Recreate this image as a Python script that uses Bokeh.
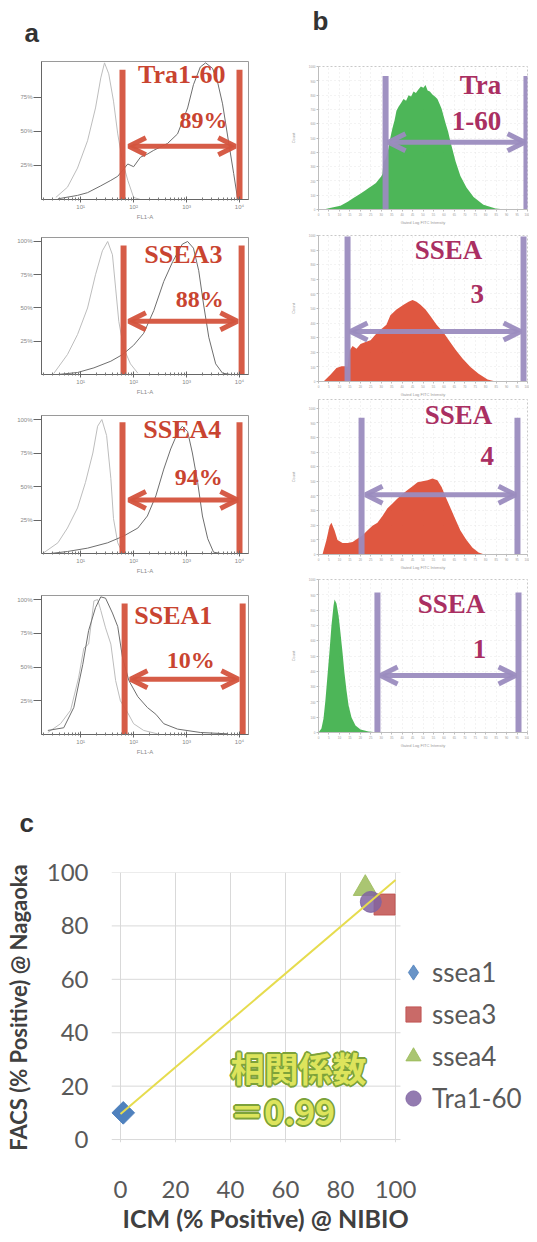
import numpy as np
from bokeh.plotting import figure
from bokeh.layouts import column, row
from bokeh.models import (Range1d, FixedTicker, LabelSet, ColumnDataSource,
                          Arrow, OpenHead, Legend, LegendItem, Title)
from bokeh.core.properties import value
from bokeh.embed import file_html
from bokeh.resources import INLINE

# ---------------- Panel a: FACS histograms (x in log10 decades, y in % of max) ----------------
a_names = ["Tra1-60", "SSEA3", "SSEA4", "SSEA1"]
a_pct = ["89%", "88%", "94%", "10%"]
a_decades = [1, 2, 3, 4]
a_decade_labels = ["10¹", "10²", "10³", "10⁴"]
a_yticks = [[25, 50, 75], [25, 50, 75, 100], [25, 50, 75, 100], [25, 50, 75, 100]]

a_ctrl_d = [
    [0.53, 0.75, 0.94, 1.13, 1.28, 1.38, 1.45, 1.53, 1.62, 1.70, 1.79, 1.89, 2.00, 2.13],
    [0.49, 0.75, 0.94, 1.13, 1.28, 1.41, 1.51, 1.60, 1.66, 1.72, 1.81, 1.94, 2.08],
    [0.30, 0.57, 0.75, 0.94, 1.09, 1.23, 1.32, 1.40, 1.49, 1.57, 1.62, 1.70, 1.79],
    [0.38, 0.62, 0.81, 0.96, 1.06, 1.15, 1.25, 1.32, 1.38, 1.47, 1.57, 1.66, 1.75, 1.89, 2.00, 2.19, 2.45],
]
a_ctrl_y = [
    [1.5, 9, 23, 43, 67, 89, 100, 92, 72, 48, 28, 14, 1.5, 0],
    [0.7, 15, 30, 50, 75, 93, 100, 90, 65, 40, 20, 8, 1],
    [0.5, 8, 19, 34, 53, 75, 95, 100, 88, 56, 26, 8, 0.5],
    [1.5, 8, 18, 42, 64, 67, 99, 100, 92, 79, 67, 40, 25, 16, 8, 3, 0.5],
]
a_samp_d = [
    [0.57, 0.94, 1.13, 1.38, 1.57, 1.70, 1.89, 2.00, 2.13, 2.25, 2.38, 2.64, 2.83, 3.02, 3.13, 3.26,
     3.36, 3.49, 3.58, 3.68, 3.79, 3.89, 3.96, 4.02],
    [0.57, 0.94, 1.25, 1.57, 1.79, 2.00, 2.19, 2.38, 2.57, 2.74, 2.92, 3.02, 3.13, 3.23, 3.32, 3.42,
     3.55, 3.68, 3.83],
    [0.43, 0.75, 1.13, 1.51, 1.81, 2.08, 2.26, 2.42, 2.57, 2.70, 2.83, 2.92, 3.02, 3.11, 3.21, 3.30,
     3.40, 3.51, 3.64],
    [0.38, 0.68, 0.87, 1.04, 1.15, 1.28, 1.38, 1.47, 1.60, 1.70, 1.79, 1.91, 2.08, 2.26, 2.42, 2.57,
     2.83, 3.26, 3.77],
]
a_samp_y = [
    [0.5, 3, 5, 10, 14, 17, 26, 24, 31, 33, 36, 41, 48, 67, 84, 97, 100, 96, 87, 70, 43, 19, 1.5, 0],
    [0, 1.5, 5, 10, 15, 22, 31, 48, 70, 85, 98, 100, 95, 78, 53, 28, 8, 1, 0],
    [0, 1.5, 4, 8, 13, 19, 28, 43, 63, 78, 90, 95, 91, 75, 53, 28, 11, 1, 0],
    [3, 5, 20, 52, 77, 94, 102, 101, 90, 80, 57, 40, 28, 20, 15, 8, 4, 1.5, 0.5],
]
a_gate_lo = [1.79, 1.81, 1.79, 1.83]
a_gate_hi = [4.00, 4.04, 4.00, 4.06]
a_gate_top = [95, 97, 98, 97]
a_arrow_lo = [1.91, 1.91, 1.91, 1.94]
a_arrow_hi = [3.92, 3.96, 3.96, 3.98]
a_arrow_y = [39, 40, 40, 41]
a_name_x = [2.91, 2.94, 2.92, 2.75]
a_name_y = [85, 84, 86, 82]
a_pct_x = [3.32, 3.25, 3.23, 3.08]
a_pct_y = [52, 51, 51, 49]
a_ytop = [101, 103, 103, 103]

# ---------------- Panel b: ICM histograms (x channel units, y counts) ----------------
b_line1 = ["Tra", "SSEA", "SSEA", "SSEA"]
b_line2 = ["1-60", "3", "4", "1"]
b_x = [
    [2.4, 6, 10.5, 14, 16.7, 20, 22.5, 24, 25.8, 27.5, 28.7, 30.0, 30.6, 31.1, 32.0, 32.5, 33.5, 34.4,
     35.4, 36.4, 37.3, 38.3, 39.5, 40.7, 41.9, 43.1, 44.3, 45.5, 46.6, 47.8, 49.0, 50.2, 51.2, 52.2,
     53.3, 54.5, 55.7, 56.9, 57.9, 58.9, 60.8, 62.0, 63.2, 65.6, 67.9, 70.8, 74.2, 78.9, 84.7, 89.5],
    [2.4, 5.7, 8.6, 11.0, 12.9, 13.9, 14.8, 16.3, 18.2, 20.1, 22.5, 24.9, 27.3, 29.7, 32.5, 34.4, 37.3,
     40.7, 43.1, 45.0, 46.9, 48.8, 51.2, 53.6, 56.5, 59.8, 62.7, 65.6, 68.9, 72.7, 76.6, 80.9, 84.7],
    [1.9, 3.8, 5.3, 6.2, 7.7, 9.1, 11.5, 13.9, 16.3, 19.1, 21.1, 23.4, 25.8, 28.2, 30.6, 33.0, 35.4,
     37.8, 40.2, 42.6, 45.0, 47.4, 49.8, 52.2, 54.5, 56.9, 58.9, 60.8, 63.2, 65.6, 67.9, 70.8, 73.7,
     76.6, 79.4],
    [0, 1.4, 2.4, 3.3, 4.3, 5.3, 6.2, 7.2, 7.7, 8.6, 9.6, 10.5, 11.5, 12.4, 13.4, 14.4, 15.8, 17.7,
     20.1, 23.9, 28.7],
]
b_y = [
    [0, 12, 27, 55, 80, 110, 134, 150, 168, 185, 208, 230, 248, 336, 350, 369, 430, 503, 570, 624,
     690, 718, 745, 772, 760, 799, 790, 826, 815, 839, 860, 852, 870, 832, 825, 805, 790, 772, 740,
     705, 604, 545, 470, 336, 235, 154, 87, 34, 7, 0],
    [0, 46, 92, 105, 105, 99, 211, 243, 224, 257, 270, 283, 322, 355, 388, 454, 493, 526, 546, 559,
     546, 526, 493, 447, 388, 336, 276, 217, 158, 99, 53, 13, 0],
    [0, 99, 197, 217, 164, 99, 79, 79, 86, 112, 132, 164, 197, 217, 263, 316, 349, 382, 414, 441,
     467, 493, 500, 507, 520, 507, 461, 395, 316, 237, 164, 99, 46, 13, 0],
    [0, 26, 92, 209, 373, 536, 699, 830, 869, 843, 765, 654, 523, 392, 275, 176, 98, 46, 20, 7, 0],
]
b_gate_lo = [32.1, 13.9, 20.6, 28.2]
b_gate_hi = [99.5, 98.1, 95.2, 95.7]
b_gate_top = [933, 993, 934, 915]
b_gate_bot = [0, 0, -30, 0]
b_arrow_lo = [33.5, 15.3, 22.5, 29.7]
b_arrow_hi = [98.6, 96.7, 94.3, 94.3]
b_arrow_y = [470, 342, 408, 373]
b_l1_x = [77.5, 62.2, 67.0, 63.6]
b_l1_y = [805, 836, 895, 784]
b_l2_x = [75.6, 75.9, 80.7, 77.0]
b_l2_y = [557, 539, 612, 484]
b_xticks = list(range(0, 101, 5))
b_yticks = list(range(0, 1001, 100))

# ---------------- Panel c: scatter ----------------
c_series = ["ssea1", "ssea3", "ssea4", "Tra1-60"]
c_icm = [1, 96, 89, 91]
c_facs = [10, 88, 94, 89]
c_ticks = [0, 20, 40, 60, 80, 100]
c_corr_title = "相関係数"

# ---------------- styles / layout ----------------
RED = "#d4533d"
RED_TXT = "#c94430"
PURPLE = "#9b8cbf"
MAGENTA = "#aa2f62"
b_fill = ["#3fb04b", "#dd4a31", "#dd4a31", "#3fb04b"]
SERIF = "Liberation Serif"
SANS = "Liberation Sans"

a_h = [222, 175, 179, 214]
a_top = [61, 15, 18, 19]
a_bot = [23, 23, 23, 56]
b_h = [227, 172, 173, 218]
b_top = [66, 8, 0, 7]
b_bot = [12, 12, 12, 58]
b_ytop = [1000, 1000, 1059, 1000]


def panel_title(p, text, offset, standoff):
    p.title.text = text
    p.title.text_font = SANS
    p.title.text_font_size = "26px"
    p.title.text_font_style = "bold"
    p.title.text_color = "#333333"
    p.title.align = "left"
    p.title.offset = offset
    p.title.standoff = standoff


def make_a(i):
    kw = {} if i == 0 else {"title_location": None}
    p = figure(width=270, height=a_h[i], x_axis_type="log",
               x_range=Range1d(10 ** 0.26, 10 ** 4.17), y_range=Range1d(0, a_ytop[i]),
               output_backend="svg", toolbar_location=None,
               min_border_left=41, min_border_right=22,
               min_border_top=a_top[i], min_border_bottom=a_bot[i], **kw)
    if i == 0:
        panel_title(p, "a", -17, 28)
    p.background_fill_color = "white"
    p.border_fill_color = "white"
    p.outline_line_color = "#9a9a9a"
    p.grid.visible = False
    p.line(10 ** np.array(a_ctrl_d[i]), a_ctrl_y[i], line_color="#bdbdbd", line_width=1)
    p.line(10 ** np.array(a_samp_d[i]), a_samp_y[i], line_color="#6e6e6e", line_width=1)
    gx = 10 ** np.array([a_gate_lo[i], a_gate_hi[i]])
    p.segment(x0=gx, y0=[0, 0], x1=gx, y1=[a_gate_top[i]] * 2,
              line_color=RED, line_width=6, line_alpha=0.95)
    head = dict(size=17, line_width=5, line_color=RED, line_alpha=0.95)
    p.add_layout(Arrow(start=OpenHead(**head), end=OpenHead(**head),
                       x_start=10 ** a_arrow_lo[i], y_start=a_arrow_y[i],
                       x_end=10 ** a_arrow_hi[i], y_end=a_arrow_y[i],
                       line_color=RED, line_width=5, line_alpha=0.95))
    src = ColumnDataSource(dict(x=10 ** np.array([a_name_x[i], a_pct_x[i]]),
                                y=[a_name_y[i], a_pct_y[i]],
                                t=[a_names[i], a_pct[i]],
                                s=["26px", "24px"]))
    p.add_layout(LabelSet(x="x", y="y", text="t", source=src, text_font=value(SERIF),
                          text_font_style="bold", text_font_size="s", text_color=RED_TXT,
                          text_align="center", text_baseline="alphabetic"))
    p.xaxis.ticker = FixedTicker(ticks=[10 ** k for k in a_decades],
                                 minor_ticks=[m * 10 ** k for k in [0] + a_decades for m in range(2, 10)])
    p.xaxis.major_label_overrides = {10 ** k: lab for k, lab in zip(a_decades, a_decade_labels)}
    p.xaxis.axis_label = "FL1-A"
    p.xaxis.major_tick_in = 3
    p.xaxis.major_tick_out = 3
    p.xaxis.minor_tick_in = 2
    p.xaxis.minor_tick_out = 1
    p.yaxis.ticker = FixedTicker(ticks=a_yticks[i])
    p.yaxis.major_label_overrides = {t: f"{t}%" for t in a_yticks[i]}
    p.yaxis.major_tick_out = 8
    p.yaxis.major_tick_in = 0
    for ax in (p.xaxis, p.yaxis):
        ax.axis_line_color = "#666666"
        ax.major_tick_line_color = "#666666"
        ax.major_label_text_font = SANS
        ax.major_label_text_font_size = "6px"
        ax.major_label_text_color = "#8a8a8a"
        ax.major_label_standoff = 1
        ax.axis_label_text_font = SANS
        ax.axis_label_text_font_size = "6px"
        ax.axis_label_text_font_style = "normal"
        ax.axis_label_text_color = "#8a8a8a"
        ax.axis_label_standoff = 1
    p.xaxis.minor_tick_line_color = "#777777"
    p.yaxis.minor_tick_line_color = None
    return p


def make_b(i):
    kw = {} if i == 0 else {"title_location": None}
    p = figure(width=259, height=b_h[i], x_range=Range1d(0, 100), y_range=Range1d(0, b_ytop[i]),
               output_backend="svg", toolbar_location=None,
               min_border_left=48, min_border_right=2,
               min_border_top=b_top[i], min_border_bottom=b_bot[i], **kw)
    if i == 0:
        panel_title(p, "b\n ", -6, 2)
    p.background_fill_color = "white"
    p.border_fill_color = "white"
    p.outline_line_color = "#c8c8c8"
    p.outline_line_dash = "2 2"
    p.grid.grid_line_color = "#e6e6e6"
    p.grid.grid_line_dash = "1 3"
    p.varea(x=b_x[i], y1=0, y2=b_y[i], fill_color=b_fill[i], fill_alpha=0.93)
    gx = [b_gate_lo[i], b_gate_hi[i]]
    p.segment(x0=gx, y0=[b_gate_bot[i]] * 2, x1=gx, y1=[b_gate_top[i]] * 2,
              line_color=PURPLE, line_width=6, line_alpha=0.95)
    head = dict(size=17, line_width=5, line_color=PURPLE, line_alpha=0.95)
    p.add_layout(Arrow(start=OpenHead(**head), end=OpenHead(**head),
                       x_start=b_arrow_lo[i], y_start=b_arrow_y[i],
                       x_end=b_arrow_hi[i], y_end=b_arrow_y[i],
                       line_color=PURPLE, line_width=5, line_alpha=0.95))
    src = ColumnDataSource(dict(x=[b_l1_x[i], b_l2_x[i]], y=[b_l1_y[i], b_l2_y[i]],
                                t=[b_line1[i], b_line2[i]]))
    p.add_layout(LabelSet(x="x", y="y", text="t", source=src, text_font=value(SERIF),
                          text_font_style="bold", text_font_size="27px", text_color=MAGENTA,
                          text_align="center", text_baseline="alphabetic"))
    p.xaxis.ticker = FixedTicker(ticks=b_xticks)
    p.yaxis.ticker = FixedTicker(ticks=b_yticks)
    p.xaxis.axis_label = "Gated Log FITC Intensity"
    p.yaxis.axis_label = "Count"
    for ax in (p.xaxis, p.yaxis):
        ax.axis_line_color = "#bdbdbd"
        ax.major_tick_line_color = "#bdbdbd"
        ax.minor_tick_line_color = None
        ax.major_tick_out = 2
        ax.major_tick_in = 0
        ax.major_label_text_font = SANS
        ax.major_label_text_font_size = "3px"
        ax.major_label_text_color = "#9a9a9a"
        ax.major_label_standoff = 1
        ax.axis_label_text_font = SANS
        ax.axis_label_text_font_size = "4px"
        ax.axis_label_text_font_style = "normal"
        ax.axis_label_text_color = "#9a9a9a"
    p.xaxis.axis_label_standoff = 1
    p.yaxis.axis_label_standoff = 10
    return p


def make_c():
    x_lo, x_area_hi, x_hi = -3.27, 101.8, 148.7
    p = figure(width=529, height=446, x_range=Range1d(x_lo, x_hi), y_range=Range1d(-1.1, 100),
               output_backend="svg", toolbar_location=None,
               min_border_left=111, min_border_right=0, min_border_top=82, min_border_bottom=94)
    panel_title(p, "c\n ", -92, 10)
    p.background_fill_color = "white"
    p.border_fill_color = "white"
    p.outline_line_color = None
    p.xgrid.ticker = FixedTicker(ticks=c_ticks)
    p.xgrid.grid_line_color = "#d9d9d9"
    p.ygrid.visible = False
    # horizontal gridlines limited to the plot area (legend sits to the right)
    p.segment(x0=[x_lo] * len(c_ticks), x1=[x_area_hi] * len(c_ticks), y0=c_ticks, y1=c_ticks,
              line_color="#d9d9d9", line_width=1)

    markers = ["square", "square", "triangle", "circle"]
    angles = [np.pi / 4, 0, 0, 0]
    sizes = [16, 21, 24, 21]
    colors = ["#4f81bd", "#c0504d", "#9bbb59", "#8064a2"]
    legend_rends = []
    for i in range(len(c_series)):
        if i == 0:
            # diamond swatch for the legend, hidden inside the rotated square drawn on top
            legend_rends.append(p.scatter(x=[c_icm[i]], y=[c_facs[i]], marker="diamond", size=20,
                                          fill_color=colors[i], line_color=colors[i],
                                          fill_alpha=0.85, line_alpha=0.85))
        r = p.scatter(x=[c_icm[i]], y=[c_facs[i]], marker=markers[i], size=sizes[i],
                      angle=angles[i], fill_color=colors[i], line_color=colors[i],
                      fill_alpha=0.85 if i else 1.0, line_alpha=0.85 if i else 1.0)
        if i:
            legend_rends.append(r)

    slope, intercept = np.polyfit(c_icm, c_facs, 1)
    tx = np.array([c_ticks[0], c_ticks[-1]], dtype=float)
    p.line(tx, slope * tx + intercept, line_color="#e6dc4e", line_width=2)

    r_val = np.corrcoef(c_icm, c_facs)[0, 1]
    txt = dict(x=[64.7, 58.9], y=[27.0, 10.9], text=[c_corr_title, f"＝{r_val:.2f}"],
               text_font=value("Noto Sans CJK JP"), text_font_style="bold", text_font_size="34px",
               text_align="center", text_baseline="middle")
    for dx, dy in [(-1.6, 0), (1.6, 0), (0, -1.6), (0, 1.6), (-1.2, -1.2), (1.2, 1.2), (-1.2, 1.2), (1.2, -1.2)]:
        p.text(x_offset=dx, y_offset=dy, text_color="#7da23a", **txt)
    p.text(text_color="#dde45c", **txt)

    legend = Legend(items=[LegendItem(label=s, renderers=[r]) for s, r in zip(c_series, legend_rends)],
                    location=(283, 23), orientation="vertical", glyph_width=38, glyph_height=42,
                    label_height=42, spacing=0, padding=0, margin=0, label_standoff=0,
                    border_line_color=None, background_fill_alpha=0,
                    label_text_font="Lato", label_text_font_size="26px",
                    label_text_color="#595959")
    p.add_layout(legend)

    p.xaxis.ticker = FixedTicker(ticks=c_ticks)
    p.yaxis.ticker = FixedTicker(ticks=c_ticks)
    for ax in (p.xaxis, p.yaxis):
        ax.axis_line_color = None
        ax.major_tick_line_color = None
        ax.minor_tick_line_color = None
        ax.major_label_text_font = "Lato"
        ax.major_label_text_font_size = "24px"
        ax.major_label_text_color = "#595959"
    p.xaxis.major_label_standoff = 32
    p.yaxis.major_label_standoff = 17
    p.yaxis.axis_label = "FACS (% Positive) @ Nagaoka"
    p.yaxis.axis_label_text_font = "Lato"
    p.yaxis.axis_label_text_font_size = "22px"
    p.yaxis.axis_label_text_font_style = "bold"
    p.yaxis.axis_label_text_color = "#404040"
    p.yaxis.axis_label_standoff = 12
    p.add_layout(Title(text="ICM (% Positive) @ NIBIO", align="left", offset=11, standoff=0,
                       text_font="Lato", text_font_size="25px", text_font_style="bold",
                       text_color="#404040"), "below")
    return p


col_a = column(*[make_a(i) for i in range(4)])
col_b = column(*[make_b(i) for i in range(4)])
layout = column(row(col_a, col_b), make_c())

open("out.html", "w").write(file_html(layout, INLINE))
